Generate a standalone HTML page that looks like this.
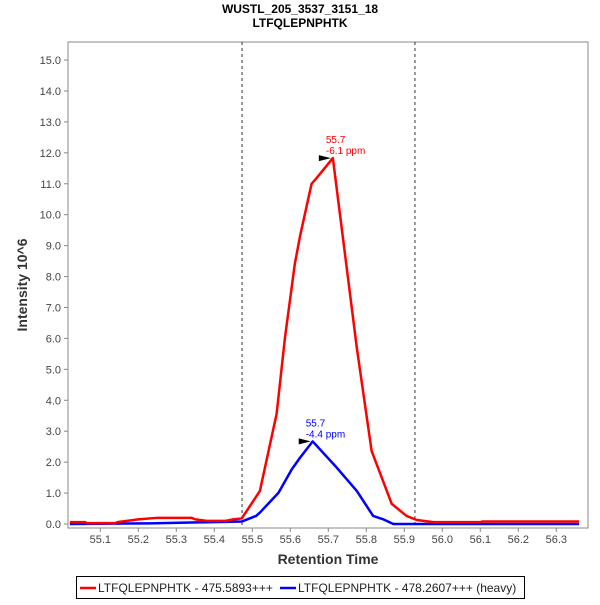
<!DOCTYPE html>
<html><head><meta charset="utf-8"><style>
body{margin:0;background:#fff;font-family:"Liberation Sans",sans-serif}
</style></head><body>
<svg id="chart" width="600" height="600" xmlns="http://www.w3.org/2000/svg">
<text x="300" y="13" text-anchor="middle" font-weight="bold" font-size="12">WUSTL_205_3537_3151_18</text>
<text x="300" y="27" text-anchor="middle" font-weight="bold" font-size="12">LTFQLEPNPHTK</text>
<rect x="68" y="42" width="520" height="486" fill="#fff" stroke="#888"/>
<g id="yticks"></g><g id="xticks"></g>
<g id="series"></g><g id="ann"></g>
<text transform="translate(27,285) rotate(-90)" text-anchor="middle" font-weight="bold" font-size="14" fill="#333">Intensity 10^6</text>
<text x="328" y="564" text-anchor="middle" font-weight="bold" font-size="14" fill="#333">Retention Time</text>
<g>
<rect x="76.5" y="576.5" width="448" height="22" fill="#fff" stroke="#000"/>
<line x1="80" y1="588" x2="96" y2="588" stroke="#f00" stroke-width="2.5"/>
<text x="98" y="592" font-size="12" fill="#222">LTFQLEPNPHTK - 475.5893+++</text>
<line x1="280" y1="588" x2="296" y2="588" stroke="#00f" stroke-width="2.5"/>
<text x="298" y="592" font-size="12" fill="#222">LTFQLEPNPHTK - 478.2607+++ (heavy)</text>
</g>
</svg>
<script>
const redX=[55.02,55.06,55.065,55.14,55.145,55.17,55.2,55.25,55.34,55.35,55.38,55.43,55.45,55.472,55.489,55.52,55.564,55.586,55.612,55.626,55.656,55.669,55.712,55.775,55.814,55.867,55.906,55.933,55.976,56.1,56.105,56.36];
const redY=[0.06,0.06,0.03,0.03,0.06,0.1,0.15,0.2,0.2,0.15,0.1,0.1,0.15,0.18,0.49,1.07,3.56,6.03,8.42,9.33,11.0,11.18,11.83,5.7,2.36,0.65,0.26,0.13,0.06,0.06,0.08,0.08];
const blueX=[55.02,55.23,55.34,55.43,55.472,55.51,55.52,55.569,55.604,55.626,55.659,55.718,55.775,55.818,55.845,55.871,56.36];
const blueY=[0,0.02,0.05,0.07,0.08,0.26,0.37,1.01,1.77,2.15,2.67,1.88,1.07,0.26,0.15,0,0];
const yTicks=[0,1,2,3,4,5,6,7,8,9,10,11,12,13,14,15];
const xTicks=[55.1,55.2,55.3,55.4,55.5,55.6,55.7,55.8,55.9,56.0,56.1,56.2,56.3];
const bounds=[55.473,55.928];
const xs=v=>62.3+(v-55)*380, ys=v=>524-v*30.93;
const NS="http://www.w3.org/2000/svg";
function mk(t,a,p){const e=document.createElementNS(NS,t);for(const k in a)e.setAttribute(k,a[k]);p.appendChild(e);return e;}
const yg=document.getElementById('yticks'),xg=document.getElementById('xticks'),sg=document.getElementById('series'),ag=document.getElementById('ann');
yTicks.forEach(v=>{const y=ys(v);
 mk('line',{x1:64,x2:68,y1:y,y2:y,stroke:'#888'},yg);
 const t=mk('text',{x:61,y:y+4,'text-anchor':'end','font-size':11,fill:'#444'},yg);t.textContent=v.toFixed(1);
 
 });
xTicks.forEach(v=>{const x=xs(v);
 mk('line',{x1:x,x2:x,y1:528,y2:532,stroke:'#888'},xg);
 const t=mk('text',{x:x,y:543,'text-anchor':'middle','font-size':11,fill:'#444'},xg);t.textContent=v.toFixed(1);
 
 });
bounds.forEach(v=>{const l=mk('line',{x1:xs(v),x2:xs(v),y1:42,y2:528,stroke:'#333','stroke-dasharray':'3,3'},sg);
 
 });
function line(X,Y,c,n){const p=mk('polyline',{points:X.map((x,i)=>xs(x)+','+ys(Y[i])).join(' '),fill:'none',stroke:c,'stroke-width':2.5,'stroke-linejoin':'round'},sg);
 
 }
line(blueX,blueY,'#00f','heavy-series-line');
line(redX,redY,'#f00','light-series-line');
function peak(X,Y,c,ppm,n){let i=Y.indexOf(Math.max(...Y));const x=xs(X[i]),y=ys(Y[i]);
 const a=mk('polygon',{points:`${x-14},${y-3} ${x-2},${y} ${x-14},${y+3}`,fill:'#000'},ag);
 
 
 const t1=mk('text',{x:x-7,y:y-15,'font-size':10,fill:c},ag);t1.textContent='55.7';
 
 
 const t2=mk('text',{x:x-7,y:y-4,'font-size':10,fill:c},ag);t2.textContent=ppm;
 
 }
peak(redX,redY,'#f00','-6.1 ppm','light');
peak(blueX,blueY,'#00f','-4.4 ppm','heavy');
</script>
</body></html>
